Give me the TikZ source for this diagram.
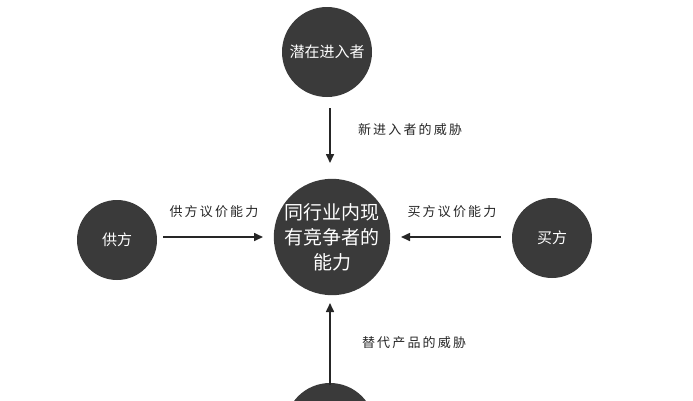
\documentclass[tikz,border=0pt]{standalone}
\usepackage{fontspec}
\newfontfamily\cjk{Noto Sans CJK SC}
\newfontfamily\cjkb{Noto Sans CJK SC Medium}
\usetikzlibrary{arrows.meta}
\definecolor{circ}{HTML}{3A3A3A}
\tikzset{
  force/.style={circle,fill=circ,text=white,font=\cjk\fontsize{15}{18}\selectfont,inner sep=0pt,align=center},
  lbl/.style={font=\cjk\fontsize{13}{15}\selectfont,text=black!85},
  arr/.style={-{Triangle[length=9pt,width=8pt]},line width=1.6pt,black!85}
}
\begin{document}
\begin{tikzpicture}[x=1pt,y=-1pt]
\useasboundingbox (0,0) rectangle (693,400);
\node[force,minimum size=90pt] (top) at (327,52) {潜在进入者};
\node[force,minimum size=116pt,font=\cjk\fontsize{19}{25}\selectfont] (mid) at (332,237) {同行业内现\\有竞争者的\\能力};
\node[force,minimum size=80pt] (left) at (117,240) {供方};
\node[force,minimum size=80pt] (right) at (552,238) {买方};
\node[force,minimum size=90pt] (bot) at (330,428) {};
\coordinate (ta) at (330,108);
\coordinate (tb) at (330,163);
\coordinate (la) at (163,237);
\coordinate (lb) at (263,237);
\coordinate (ra) at (501,237);
\coordinate (rb) at (401,237);
\coordinate (ba) at (330,385);
\coordinate (bb) at (330,303);
\draw[arr] (ta) -- (tb);
\draw[arr] (la) -- (lb);
\draw[arr] (ra) -- (rb);
\draw[arr] (ba) -- (bb);
\node[lbl] (l1) at (410,130) {新\,进\,入\,者\,的\,威\,胁};
\node[lbl] (l2) at (214,212) {供\,方\,议\,价\,能\,力};
\node[lbl] (l3) at (452,212) {买\,方\,议\,价\,能\,力};
\node[lbl] (l4) at (414,343) {替\,代\,产\,品\,的\,威\,胁};
\end{tikzpicture}
\end{document}
